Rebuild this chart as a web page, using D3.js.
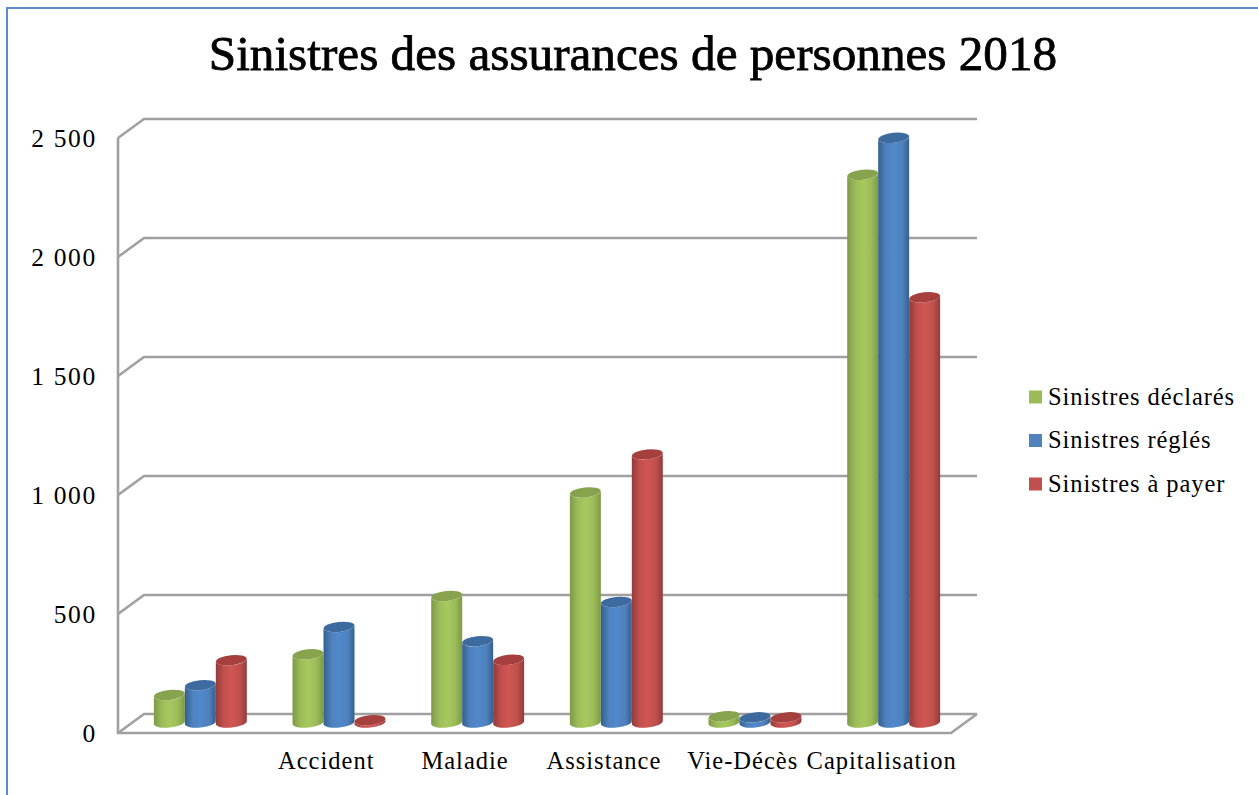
<!DOCTYPE html>
<html>
<head>
<meta charset="utf-8">
<title>Sinistres des assurances de personnes 2018</title>
<script src="https://d3js.org/d3.v7.min.js"></script>
<style>
html, body { margin: 0; padding: 0; background: #fff; }
svg { display: block; }
text { font-family: "Liberation Serif", serif; fill: #000; }
.y-axis .tick text { font-size: 25.5px; letter-spacing: 1.7px; }
.x-axis .tick text { font-size: 24.5px; letter-spacing: 1px; }
.legend text { font-size: 24.5px; letter-spacing: 0.9px; }
.title { font-size: 49.2px; stroke: #000; stroke-width: 0.8px; }
</style>
</head>
<body>
<div id="chart"></div>
<script>
var categories = ["", "Accident", "Maladie", "Assistance", "Vie-Décès", "Capitalisation"];
var seriesNames = ["Sinistres déclarés", "Sinistres réglés", "Sinistres à payer"];
var declares = [124, 295, 540, 975, 35, 2310];
var regles = [165, 410, 350, 515, 30, 2465];
var aPayer = [270, 18, 272, 1135, 30, 1795];
var yTicks = [0, 500, 1000, 1500, 2000, 2500];
var colors = ["#9bbb59", "#4f81bd", "#c0504d"];
var lightColors = ["#a6c95e", "#5089cc", "#d05653"];
var darkColors = ["#7c9a45", "#33608f", "#933a38"];
var topColors = ["#87a34d", "#3d6b9f", "#a5403e"];

var width = 1258, height = 795;
var depthX = 26, depthY = 19;

var svg = d3.select("#chart").append("svg").attr("width", width).attr("height", height);
var defs = svg.append("defs");

colors.forEach(function(c, i) {
  var g = defs.append("linearGradient").attr("id", "cyl" + i);
  g.append("stop").attr("offset", "0%").attr("stop-color", darkColors[i]);
  g.append("stop").attr("offset", "25%").attr("stop-color", c);
  g.append("stop").attr("offset", "50%").attr("stop-color", lightColors[i]);
  g.append("stop").attr("offset", "78%").attr("stop-color", c);
  g.append("stop").attr("offset", "100%").attr("stop-color", darkColors[i]);
});

// frame, only top and left show in the picture
svg.append("path")
  .attr("d", d3.line()([[7, height], [7, 8], [width, 8]]))
  .attr("fill", "none").attr("stroke", "#5b8bc9").attr("stroke-width", 2);

svg.append("text").attr("class", "title")
  .attr("x", 633).attr("y", 70).attr("text-anchor", "middle")
  .text("Sinistres des assurances de personnes 2018");

var x = d3.scaleBand().domain(categories).range([118, 950]).paddingInner(0.33).paddingOuter(0.165);
var xLabels = d3.scaleBand().domain(categories).range([118, 951]);
var xSeries = d3.scaleBand().domain(seriesNames).range([0, x.bandwidth()]);
var y = d3.scaleLinear().domain([0, 2500]).range([733, 138]);

// walls
var wall = svg.append("g").attr("fill", "none").attr("stroke", "#a0a0a0").attr("stroke-width", 2.6);
yTicks.forEach(function(t) {
  wall.append("path").attr("d", d3.line()([
    [xLabels.range()[0], y(t)],
    [xLabels.range()[0] + depthX, y(t) - depthY],
    [xLabels.range()[1] + depthX, y(t) - depthY]
  ]));
});
wall.append("path").attr("d", d3.line()([
  [xLabels.range()[0], y(2500)],
  [xLabels.range()[0], y(0)],
  [xLabels.range()[1], y(0)],
  [xLabels.range()[1] + depthX, y(0) - depthY]
]));

// cylinders
var series = [declares, regles, aPayer];
var rx = xSeries.bandwidth() / 2, ry = 5, tilt = -6;
var lift = rx * Math.sin(-tilt * Math.PI / 180);

function bodyPath(cx, top, bottom) {
  return "M" + (cx - rx) + "," + (top + lift) +
    "L" + (cx - rx) + "," + (bottom + lift) +
    "A" + rx + "," + ry + " " + tilt + " 0 0 " + (cx + rx) + "," + (bottom - lift) +
    "L" + (cx + rx) + "," + (top - lift) +
    "A" + rx + "," + ry + " " + tilt + " 0 1 " + (cx - rx) + "," + (top + lift) + "Z";
}

series.forEach(function(values, s) {
  var g = svg.append("g");
  var rows = values.map(function(v, i) {
    return {
      cx: x(categories[i]) + xSeries(seriesNames[s]) + rx + depthX / 2,
      top: y(v) - depthY / 2,
      bottom: y(0) - depthY / 2 - 1
    };
  });
  g.selectAll("path.body").data(rows).enter().append("path")
    .attr("class", "body")
    .attr("d", function(d) { return bodyPath(d.cx, d.top + 1, d.bottom); })
    .attr("fill", "url(#cyl" + s + ")");
  g.selectAll("ellipse").data(rows).enter().append("ellipse")
    .attr("cx", function(d) { return d.cx; })
    .attr("cy", function(d) { return d.top + 1; })
    .attr("rx", rx).attr("ry", ry)
    .attr("transform", function(d) { return "rotate(" + tilt + " " + d.cx + " " + (d.top + 1) + ")"; })
    .attr("fill", topColors[s]);
});

// axes
var fmt = function(d) { return d3.format(",")(d).replace(",", " "); };
var yAxis = svg.append("g").attr("class", "y-axis")
  .attr("transform", "translate(97,0)")
  .call(d3.axisLeft(y).tickValues(yTicks).tickFormat(fmt).tickSize(0).tickPadding(0));
yAxis.select(".domain").remove();
yAxis.selectAll("text").attr("dy", "0.32em");

var xAxis = svg.append("g").attr("class", "x-axis")
  .attr("transform", "translate(0,752)")
  .call(d3.axisBottom(xLabels).tickSize(0).tickPadding(0));
xAxis.select(".domain").remove();

// legend
var legend = svg.append("g").attr("class", "legend");
var legendY = d3.scalePoint().domain(seriesNames).range([397, 484]);
seriesNames.forEach(function(name, i) {
  legend.append("rect")
    .attr("x", 1029).attr("y", legendY(name) - 6.5)
    .attr("width", 13).attr("height", 13)
    .attr("fill", colors[i]);
  legend.append("text")
    .attr("x", 1048).attr("y", legendY(name)).attr("dy", "0.32em")
    .text(name);
});
</script>
</body>
</html>
